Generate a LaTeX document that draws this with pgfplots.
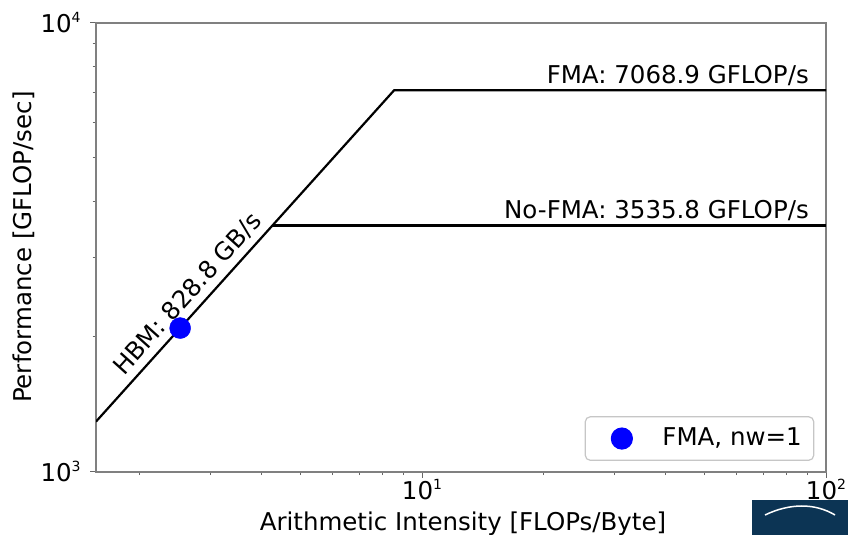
\documentclass[border=0pt]{standalone}
\usepackage{fontspec}
\setmainfont{DejaVu Sans}
\usepackage{pgfplots}
\pgfplotsset{compat=1.18}
\definecolor{logoblue}{RGB}{12,52,84}
\newcommand{\tp}[1]{10\raisebox{0.40em}{\fontsize{14}{14}\selectfont #1}}
\begin{document}
\fontsize{24.5}{29}\selectfont
\begin{tikzpicture}
\useasboundingbox (0pt,0pt) rectangle (848pt,535pt);
\begin{axis}[
  at={(96pt,63.3pt)}, anchor=south west, scale only axis,
  width=730pt, height=449pt,
  xmode=log, ymode=log,
  xmin=1.56, xmax=100, ymin=1000, ymax=10000,
  xtick={10,100}, xticklabels={\tp{1},\tp{2}},
  ytick={1000,10000}, yticklabels={\tp{3},\tp{4}},
  minor xtick={2,3,4,5,6,7,8,9,20,30,40,50,60,70,80,90},
  minor ytick={2000,3000,4000,5000,6000,7000,8000,9000},
  tick align=outside, tick pos=left,
  major tick length=6pt, minor tick length=3.5pt,
  axis line style={gray, line width=1.8pt},
  every tick/.style={gray!80!black, line width=1pt},
  xticklabel style={anchor=base, yshift=-22pt},
  yticklabel style={anchor=east, xshift=-1pt},
  xlabel={Arithmetic Intensity [FLOPs/Byte]},
  ylabel={Performance [GFLOP/sec]},
  xlabel style={at={(axis description cs:0.5,0)}, anchor=base, xshift=2pt, yshift=-59pt},
  ylabel style={at={(axis description cs:0,0.5)}, anchor=center, yshift=72pt},
  legend style={at={(0.984,0.024)}, anchor=south east, draw=gray!45, rounded corners=5pt,
    line width=1.2pt, inner xsep=10pt, inner ysep=9pt},
  legend cell align=left,
  legend image code/.code={\draw[mark repeat=2,mark phase=2,#1] plot coordinates {(-10pt,0pt)(10pt,0pt)(30pt,0pt)}; \path (-16pt,0pt) (48pt,0pt);},
]
\addplot[black, line width=2.2pt, forget plot] coordinates {
  (1.56,1292.9) (8.5290,7068.9) (100,7068.9)};
\addplot[black, line width=2.2pt, forget plot] coordinates {
  (4.2662,3535.8) (100,3535.8)};
\addplot[only marks, mark=*, mark size=10.5pt, color=blue, mark options={draw=blue, fill=blue}]
  coordinates {(2.52,2088.6)};
\addlegendentry{FMA, nw=1}
\node[anchor=base east, inner sep=0pt, xshift=-17pt, yshift=6.5pt] at (axis cs:100,7068.9) {FMA: 7068.9 GFLOP/s};
\node[anchor=base east, inner sep=0pt, xshift=-17pt, yshift=6.5pt] at (axis cs:100,3535.8) {No-FMA: 3535.8 GFLOP/s};
\node[rotate=48, inner sep=0pt] at (axis cs:2.63,2488) {HBM: 828.8 GB/s};
\end{axis}
\fill[logoblue] (752pt,0pt) rectangle (848pt,35pt);
\draw[white, line width=1.5pt] (765pt,20pt) .. controls (790pt,32pt) and (815pt,32pt) .. (835pt,20pt);
\end{tikzpicture}
\end{document}
